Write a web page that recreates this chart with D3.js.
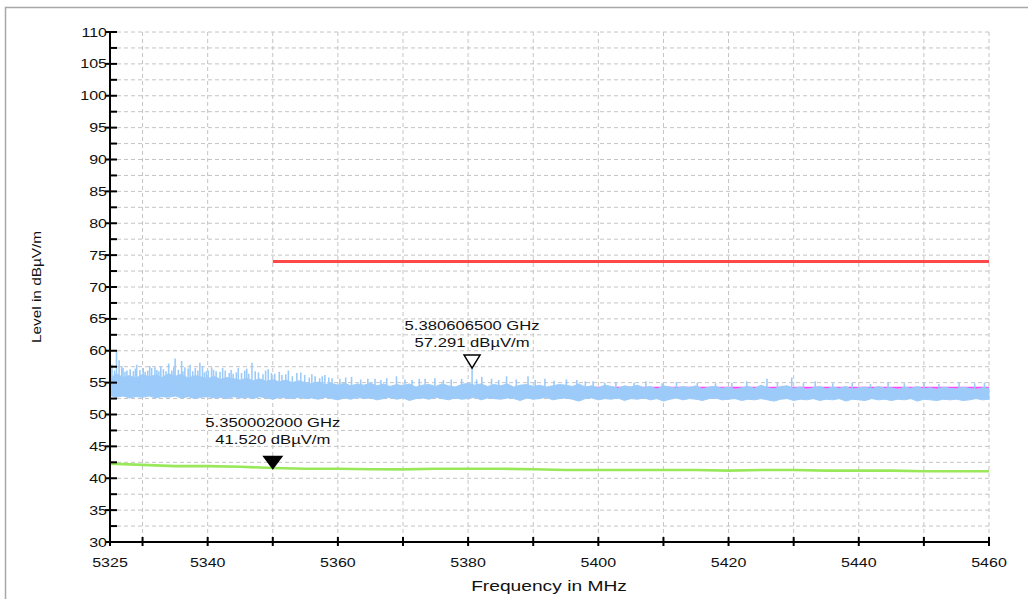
<!DOCTYPE html>
<html><head><meta charset="utf-8">
<script src="https://cdn.jsdelivr.net/npm/d3@7"></script>
<style>body{margin:0;background:#fff}svg{display:block;font-family:"Liberation Sans",Arial,sans-serif}</style>
</head><body><svg id="c" width="1028" height="599"></svg>
<script>
// ---------- data ----------
const xDomain = [5325, 5460];
const yDomain = [30, 110];
const xTickLabels = [5325, 5340, 5360, 5380, 5400, 5420, 5440, 5460];
const xTicks = [5325, 5330, 5340, 5350, 5360, 5370, 5380, 5390, 5400, 5410, 5420, 5430, 5440, 5450, 5460];
const yTickLabels = [30, 35, 40, 45, 50, 55, 60, 65, 70, 75, 80, 85, 90, 95, 100, 105, 110];
const limitFreq = [5350, 5460];
const limitLevel = [74, 74];
// peak trace: band envelope every 1 MHz starting at 5325
const bandStart = 5325;
const bandUpper = [
55.6,56.4,55.8,56.1,55.7,56.3,55.9,56.2,55.8,56.4,
56.0,56.3,55.7,56.1,55.9,55.6,56.0,55.5,55.8,55.6,
55.4,55.7,55.3,55.6,55.2,55.5,55.1,55.4,55.0,55.3,
55.0,54.8,55.1,54.7,54.9,54.6,54.9,54.5,54.8,54.6,
54.9,54.5,54.8,54.4,54.7,54.5,54.8,54.3,54.6,54.7,
54.4,54.8,54.5,54.3,54.7,54.9,54.6,54.8,54.4,54.7,
54.5,54.8,54.3,54.6,54.7,54.4,54.6,54.3,54.5,54.7,
54.6,54.4,54.8,54.3,54.5,54.2,54.6,54.4,54.1,54.5,
54.3,54.6,54.2,54.4,54.0,54.5,54.3,54.1,54.4,54.2,
54.5,54.0,54.3,54.4,54.1,54.3,53.9,54.2,54.4,54.1,
54.6,54.2,54.0,54.4,54.5,54.1,54.3,53.9,54.2,54.4,
54.0,54.3,54.1,54.4,53.9,54.2,54.3,54.0,54.4,54.1,
54.2,53.9,54.3,54.1,54.4,54.0,54.2,53.9,54.3,54.1,
54.0,54.3,54.1,53.9,54.2,54.1];
const bandLower = [
53.0,52.7,52.9,52.6,52.8,52.7,52.9,52.6,52.8,52.7,
52.9,52.6,52.8,52.5,52.7,52.8,52.6,52.7,52.5,52.8,
52.6,52.7,52.5,52.8,52.6,52.4,52.7,52.6,52.5,52.7,
52.5,52.6,52.4,52.7,52.5,52.3,52.6,52.4,52.7,52.5,
52.6,52.3,52.5,52.7,52.4,52.6,52.2,52.5,52.6,52.4,
52.7,52.5,52.3,52.6,52.4,52.5,52.7,52.3,52.6,52.5,
52.4,52.6,52.5,52.2,52.6,52.4,52.5,52.7,52.3,52.5,
52.6,52.4,52.1,52.5,52.6,52.3,52.5,52.4,52.6,52.2,
52.5,52.4,52.6,52.3,52.5,52.1,52.4,52.6,52.3,52.5,
52.4,52.2,52.5,52.6,52.3,52.4,52.5,52.2,52.4,52.3,
52.5,52.3,52.1,52.4,52.5,52.2,52.4,52.3,52.5,52.2,
52.4,52.3,52.5,52.1,52.4,52.3,52.2,52.5,52.3,52.4,
52.2,52.4,52.3,52.5,52.1,52.4,52.3,52.2,52.4,52.3,
52.4,52.2,52.3,52.5,52.3,52.4];
const spikes = [
[5325.3,57.8],[5326.0,60.1],[5326.4,58.5],[5327.0,57.3],[5327.6,56.9],[5328.1,57.1],[5328.6,56.8],[5329.1,57.8],[5329.6,57.0],[5330.1,57.3],
[5330.8,56.9],[5331.4,57.3],[5331.9,57.4],[5332.5,56.8],[5333.2,57.1],[5334.0,58.0],[5334.5,56.9],[5335.0,58.8],[5335.5,57.0],[5336.0,58.4],
[5336.5,57.4],[5337.3,57.8],[5337.7,56.8],[5338.1,57.3],[5338.8,58.1],[5339.5,56.6],[5340.1,56.9],[5340.6,57.4],[5341.3,56.8],[5341.9,56.7],
[5342.7,56.9],[5343.3,56.5],[5343.9,56.4],[5344.7,57.3],[5345.2,56.5],[5345.7,56.9],[5346.3,56.4],[5346.8,58.1],[5347.8,56.6],[5348.5,56.3],
[5349.3,57.1],[5350.3,56.4],[5351.4,56.2],[5352.4,56.9],[5353.0,56.0],[5353.7,56.5],[5354.9,56.2],[5355.6,55.8],[5356.5,56.0],[5357.2,55.7],
[5358.0,56.2],[5359.1,55.7],[5360.3,55.6],[5361.2,55.8],[5362.1,55.9],[5363.5,55.5],[5364.6,55.6],[5365.7,55.6],[5366.6,55.4],[5367.5,55.7],
[5369.0,56.0],[5370.3,55.5],[5371.4,55.4],[5372.5,55.6],[5373.4,55.6],[5374.9,55.7],[5376.2,55.4],[5377.4,55.5],[5379.0,55.6],[5380.61,57.29],
[5381.3,55.5],[5382.1,55.9],[5383.6,55.6],[5384.7,55.4],[5385.9,56.0],[5387.4,55.5],[5389.2,56.0],[5390.3,55.4],[5391.8,55.6],[5393.2,55.3],
[5395.1,55.5],[5396.7,55.4],[5398.0,55.2],[5399.2,55.2],[5401.0,55.0],[5402.7,55.1],[5405.5,55.0],[5407.3,55.2],[5409.8,54.9],[5412.0,55.1],
[5415.2,55.0],[5418.0,54.9],[5420.5,55.0],[5422.8,55.2],[5425.9,55.6],[5427.5,55.0],[5429.7,55.8],[5431.5,54.9],[5433.3,55.2],[5436.0,54.9],
[5439.0,55.0],[5441.8,54.8],[5444.5,55.1],[5447.0,54.9],[5450.0,55.0],[5452.3,54.8],[5455.4,55.1],[5457.8,54.9],[5459.3,55.0],
[5325.7,56.9],[5326.8,57.6],[5327.3,56.7],[5328.9,57.2],[5330.4,56.7],[5331.1,57.6],[5332.2,57.0],[5332.8,57.5],[5333.6,56.8],[5334.8,57.4],
[5336.2,56.8],[5337.0,57.2],[5338.5,56.9],[5339.2,57.5],[5339.8,56.8],[5340.9,57.0],[5342.3,57.3],[5343.6,57.0],[5344.4,56.6],[5346.0,57.2],
[5347.3,56.8],[5348.9,56.9],[5349.8,56.5],[5351.0,56.7],[5352.0,56.3],[5354.3,56.6],[5356.0,56.3],[5357.6,56.0],[5358.6,55.8]];
// magenta trace every 5 MHz from 5325
const magStart = 5325;
const magLevel = [54.3,54.2,54.2,54.1,54.1,54.1,54.1,54.1,54.0,54.1,54.1,54.1,54.1,54.1,54.1,54.2,54.2,54.2,54.2,54.2,54.2,54.2,54.2,54.2,54.2,54.2,54.2,54.2];
// average trace every 5 MHz from 5325
const avgStart = 5325;
const avgLevel = [42.3,42.1,41.9,41.9,41.8,41.6,41.5,41.5,41.4,41.4,41.5,41.5,41.5,41.4,41.3,41.3,41.3,41.3,41.3,41.2,41.3,41.3,41.2,41.2,41.2,41.1,41.1,41.1];
const markers = [
  {f:5350.002, v:41.52, fill:true,  l1:"5.350002000 GHz", l2:"41.520 dBµV/m"},
  {f:5380.6065, v:57.291, fill:false, l1:"5.380606500 GHz", l2:"57.291 dBµV/m"}
];

// ---------- drawing ----------
const svg = d3.select("#c");
const L = 110, R = 989, T = 32, B = 542;
const SX = 1.28; // horizontal stretch of the original's text
const x = d3.scaleLinear().domain(xDomain).range([L, R]);
const y = d3.scaleLinear().domain(yDomain).range([B, T]);

function txt(px, py, s, size, anchor, rot) {
  return svg.append("text")
    .attr("transform", `translate(${px},${py})` + (rot ? ` rotate(${rot})` : "") + ` scale(${SX},1)`)
    .attr("text-anchor", anchor).attr("font-size", size).attr("fill", "#111").text(s);
}

// frame
svg.append("rect").attr("x",5.5).attr("y",7.5).attr("width",1040).attr("height",620)
  .attr("fill","none").attr("stroke","#a8a8a8").attr("stroke-width",1.5);

// grid
const g = svg.append("g");
const hLines = d3.range(yDomain[0], yDomain[1] + 0.01, 2.5);
g.selectAll(".hg").data(hLines.filter(d => d > yDomain[0])).enter().append("line")
  .attr("x1", L).attr("x2", R).attr("y1", d => y(d)).attr("y2", d => y(d))
  .attr("stroke","#c4c4c4").attr("stroke-width",1).attr("stroke-dasharray","4,3");
g.selectAll(".vg").data(xTicks.filter(d => d > xDomain[0])).enter().append("line")
  .attr("y1", T).attr("y2", B).attr("x1", d => x(d)).attr("x2", d => x(d))
  .attr("stroke","#c4c4c4").attr("stroke-width",1).attr("stroke-dasharray","4,3");

// magenta (behind)
const magData = magLevel.map((v,i) => [magStart + i*5, v]);
svg.append("path").datum(magData)
  .attr("d", d3.line().x(d => x(d[0])).y(d => y(d[1])))
  .attr("fill","none").attr("stroke","#ff44ff").attr("stroke-width",2);

// blue band
const blueCol = "#9ccbfa";
const bandData = bandUpper.map((u,i) => ({f: bandStart + i, u, l: bandLower[i]}));
svg.append("path").datum(bandData)
  .attr("d", d3.area().x(d => x(d.f)).y0(d => y(d.l)).y1(d => y(d.u)))
  .attr("fill", blueCol).attr("stroke", blueCol).attr("stroke-width",1);
svg.selectAll(".sp").data(spikes).enter().append("line")
  .attr("x1", d => x(d[0])).attr("x2", d => x(d[0]))
  .attr("y1", y(53.5)).attr("y2", d => y(d[1]))
  .attr("stroke", blueCol).attr("stroke-width",1.6);

// green average
const avgData = avgLevel.map((v,i) => [avgStart + i*5, v]);
svg.append("path").datum(avgData)
  .attr("d", d3.line().x(d => x(d[0])).y(d => y(d[1])))
  .attr("fill","none").attr("stroke","#98e85a").attr("stroke-width",2.6);

// limit line
svg.append("path").datum(limitFreq.map((f,i)=>[f, limitLevel[i]]))
  .attr("d", d3.line().x(d => x(d[0])).y(d => y(d[1])))
  .attr("fill","none").attr("stroke","#ff4848").attr("stroke-width",3);

// axes
const ax = svg.append("g").attr("stroke","#000");
ax.append("line").attr("x1",L).attr("x2",L).attr("y1",T).attr("y2",B).attr("stroke-width",2);
ax.append("line").attr("x1",L).attr("x2",R).attr("y1",B).attr("y2",B).attr("stroke-width",2);
ax.selectAll(".yt").data(hLines).enter().append("line")
  .attr("x1", d => (d % 5 === 0) ? L - 5 : L)
  .attr("x2", L + 7).attr("y1", d => y(d)).attr("y2", d => y(d)).attr("stroke-width",2);
ax.selectAll(".xt").data(xTicks).enter().append("line")
  .attr("x1", d => x(d)).attr("x2", d => x(d)).attr("y1", B - 5).attr("y2", B + 4).attr("stroke-width",2);

yTickLabels.forEach(d => txt(L - 3, y(d) + 4.5, d, 12.5, "end"));
xTickLabels.forEach(d => txt(x(d), 567, d, 12.5, "middle"));

txt(549, 591, "Frequency in MHz", 15, "middle");
txt(41, 287, "Level in dBµV/m", 12, "middle", -90);

// markers
markers.forEach(m => {
  const px = x(m.f), py = y(m.v);
  const w = m.fill ? 9 : 8, h = m.fill ? 12 : 13;
  const off = m.fill ? 30 : 25;
  svg.append("path")
    .attr("d", `M${px - w},${py - h}L${px + w},${py - h}L${px},${py}Z`)
    .attr("fill", m.fill ? "#000" : "#fff").attr("stroke","#000").attr("stroke-width",1.5);
  txt(px, py - h - off, m.l1, 13, "middle");
  txt(px, py - h - off + 17, m.l2, 13, "middle");
});
</script></body></html>
